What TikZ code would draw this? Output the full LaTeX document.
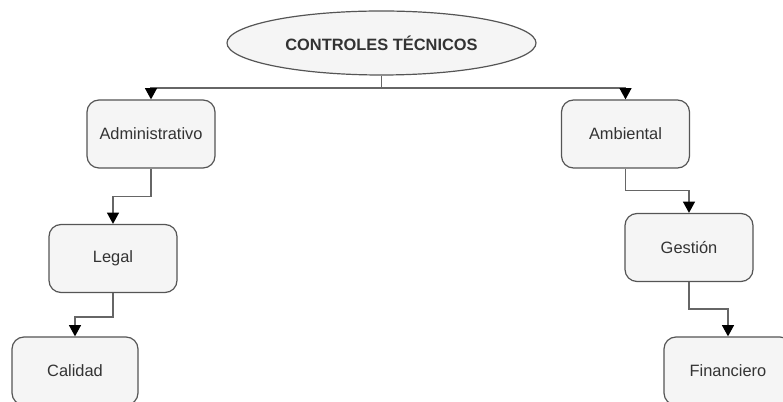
\documentclass[tikz,border=0pt]{standalone}
\usepackage{fontspec}
\setmainfont{Liberation Sans}
\usetikzlibrary{shapes.geometric,arrows.meta}
\definecolor{boxfill}{HTML}{F5F5F5}
\definecolor{boxline}{HTML}{555555}
\definecolor{txt}{HTML}{333333}
\definecolor{conn}{HTML}{666666}
\tikzset{
  box/.style={draw=boxline, fill=boxfill, line width=0.9pt, rounded corners=9pt,
    minimum width=96pt, minimum height=51pt, inner sep=0pt, text=txt,
    font=\fontsize{12.3pt}{14pt}\selectfont},
  title/.style={ellipse, draw=boxline, fill=boxfill, line width=0.9pt,
    minimum width=231.75pt, minimum height=48pt, inner sep=0pt, text=txt,
    font=\fontsize{12.3pt}{14pt}\selectfont\bfseries},
  conn/.style={draw=conn, line width=1.1pt},
  arr/.style={conn, -{Triangle[width=9pt,length=8.5pt,color=black]}}
}
\begin{document}
\begin{tikzpicture}[x=0.75pt,y=-0.75pt]
\useasboundingbox (0,0) rectangle (783,402);
\clip (0,0) rectangle (783,402);
\node[title] (t) at (381.5,43) {CONTROLES TÉCNICOS};
\node[box] (adm) at (151,134) {Administrativo};
\node[box] (amb) at (625.5,134) {Ambiental};
\node[box] (leg) at (113,258.5) {Legal};
\node[box] (ges) at (689,247.5) {Gestión};
\node[box, minimum width=94.5pt] (cal) at (75,371) {Calidad};
\node[box] (fin) at (728,371) {Financiero};
\coordinate (j) at (381.5,88);
\draw[conn] (t.south) -- (j);
\draw[arr] (j) -| (adm.north);
\draw[arr] (j) -| (amb.north);
\draw[arr] (adm.south) -- ++(0,28) -| (leg.north);
\draw[arr] (leg.south) -- ++(0,24) -| (cal.north);
\draw[arr] (amb.south) -- ++(0,22) -| (ges.north);
\draw[arr] (ges.south) -- ++(0,27) -| (fin.north);
\end{tikzpicture}
\end{document}
